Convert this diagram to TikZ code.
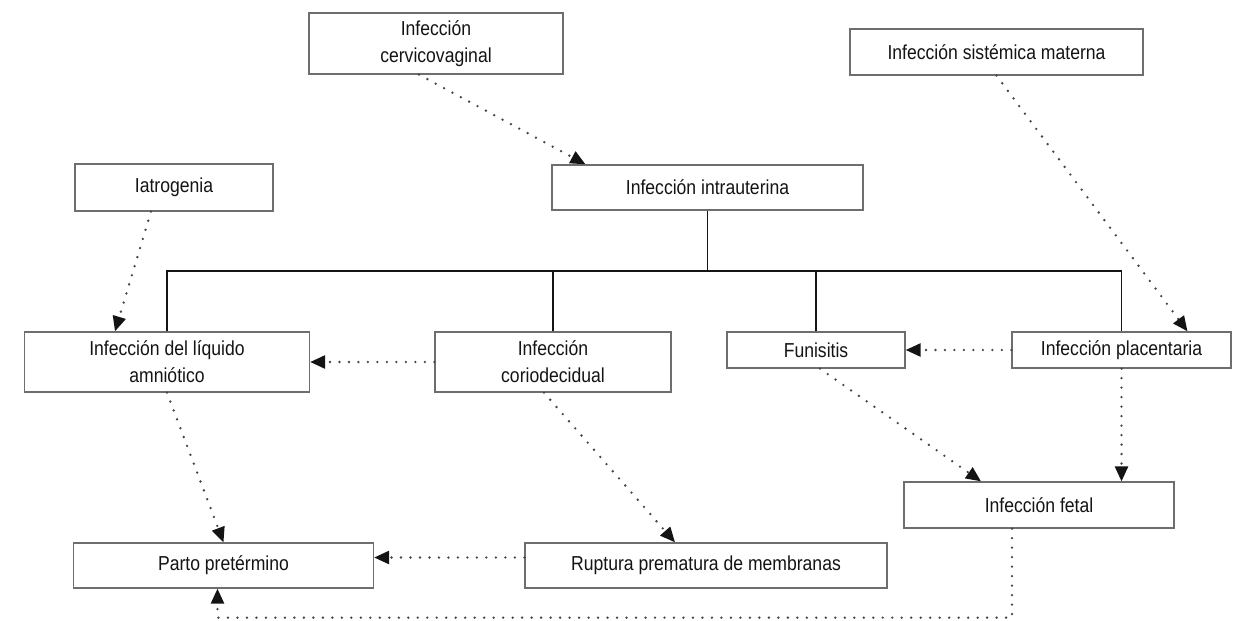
\documentclass[tikz,border=0pt]{standalone}
\usepackage{fontspec}
\setmainfont{Liberation Sans}[FakeStretch=0.87]
\usetikzlibrary{arrows.meta,calc}
\definecolor{boxline}{HTML}{6E6E6E}
\definecolor{dotgray}{HTML}{454545}
\definecolor{inkblk}{HTML}{141414}
\tikzset{
  bx/.style={draw=boxline, line width=0.75pt, fill=white, align=center, text=inkblk, inner sep=1pt,
    font=\fontsize{11.5}{15.5}\selectfont},
  tree/.style={draw=inkblk, line width=1.1pt},
  dotarr/.style={-{Triangle[length=3mm, width=2.6mm, color=inkblk]}, draw=dotgray, line width=1.5pt,
    line cap=round, dash pattern=on 0pt off 5.4pt},
}
\begin{document}
\begin{tikzpicture}[x=0.2mm, y=-0.2mm]
  \useasboundingbox (0,0) rectangle (1236,620);
  % sources
  \node[bx, minimum width=50.8mm, minimum height=12.2mm] (cerv) at (436,43.5) {Infección\\cervicovaginal};
  \node[bx, minimum width=58.6mm, minimum height=9.2mm] (sist) at (996.5,52) {Infección sistémica materna};
  \node[bx, minimum width=39.6mm, minimum height=9.4mm] (iatro) at (174,187.5) {Iatrogenia};
  \node[bx, minimum width=62.2mm, minimum height=9mm] (intra) at (707.5,187.5) {Infección intrauterina};
  % middle row
  \node[bx, minimum width=57mm, minimum height=12mm] (liq) at (167,362) {Infección del líquido\\amniótico};
  \node[bx, minimum width=47.2mm, minimum height=12mm] (corio) at (553,362) {Infección\\coriodecidual};
  \node[bx, minimum width=35.6mm, minimum height=7.2mm] (funi) at (816,350) {Funisitis};
  \node[bx, minimum width=43.8mm, minimum height=7.2mm] (plac) at (1121.5,350) {Infección placentaria};
  % outcomes
  \node[bx, minimum width=54mm, minimum height=9.2mm] (fetal) at (1039,505) {Infección fetal};
  \node[bx, minimum width=60mm, minimum height=9mm] (parto) at (223.5,565.5) {Parto pretérmino};
  \node[bx, minimum width=72.4mm, minimum height=9mm] (rupt) at (706,565.5) {Ruptura prematura de membranas};

  % tree from intrauterina
  \coordinate (bus) at (0,271);
  \draw[tree] (intra.south) -- (intra.south |- bus);
  \draw[tree] (liq.north) |- (plac.north |- bus) -- (plac.north);
  \draw[tree] (corio.north) -- (corio.north |- bus);
  \draw[tree] (funi.north) -- (funi.north |- bus);

  % dotted links
  \draw[dotarr] ($(cerv.south)+(-17,0)$) -- ($(intra.north)+(-122,0)$);
  \draw[dotarr] (sist.south) -- ($(plac.north)+(66,0)$);
  \draw[dotarr] ($(iatro.south)+(-23,0)$) -- ($(liq.north)+(-52,0)$);
  \draw[dotarr] (corio.west) -- (liq.east);
  \draw[dotarr] (plac.west) -- (funi.east);
  \draw[dotarr] (liq.south) -- (parto.north);
  \draw[dotarr] ($(corio.south)+(-9,0)$) -- ($(rupt.north)+(-31,0)$);
  \draw[dotarr] ($(funi.south)+(4,0)$) -- ($(fetal.north)+(-58,0)$);
  \draw[dotarr] (plac.south) -- (plac.south |- fetal.north);
  \draw[dotarr] ($(rupt.west)+(0,-8)$) -- ($(parto.east)+(0,-8)$);
  \draw[dotarr] ($(fetal.south)+(-27,0)$) -- ++(0,89) -| ($(parto.south)+(-6,0)$);
\end{tikzpicture}
\end{document}
